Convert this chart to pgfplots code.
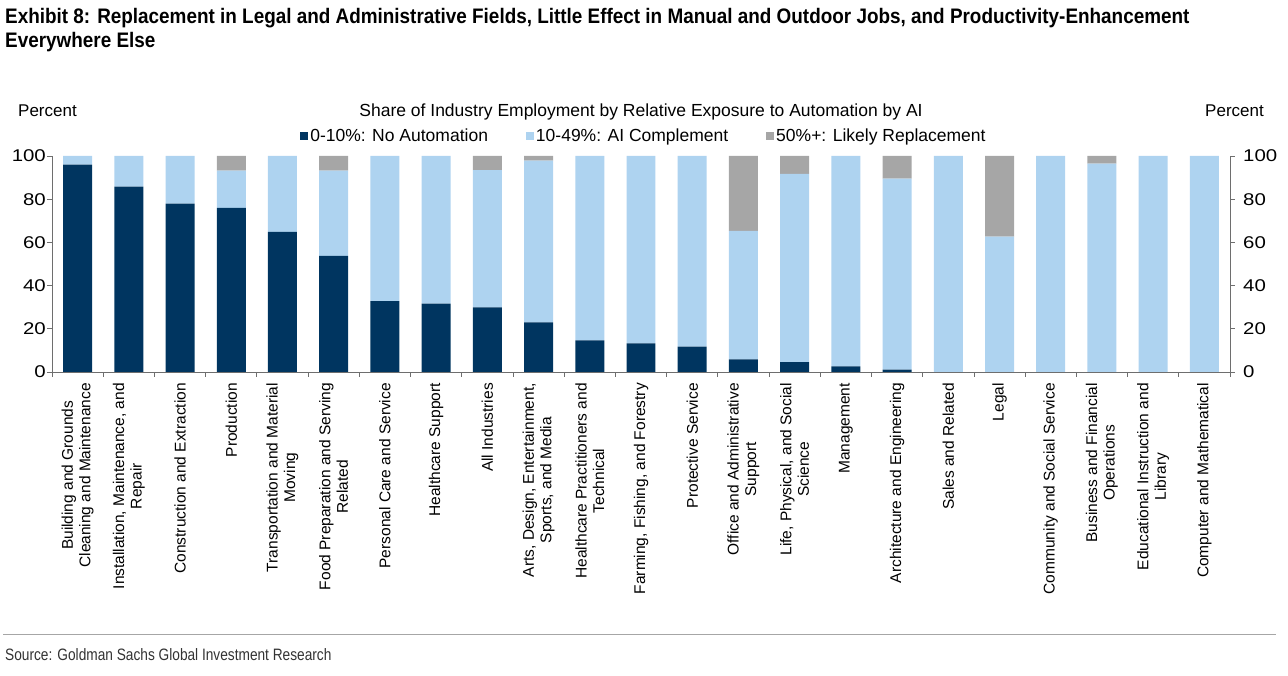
\documentclass[border=0pt]{standalone}
\usepackage{fontspec}
\setmainfont{Liberation Sans}
\newfontfamily\narrowbold[FakeStretch=0.90]{Liberation Sans Bold}
\newfontfamily\narrow[FakeStretch=0.83]{Liberation Sans}
\newfontfamily\widedigits[FakeStretch=1.2]{Liberation Sans}
\usepackage{pgfplots}
\pgfplotsset{compat=1.18}

\definecolor{navy}{HTML}{003560}
\definecolor{skyb}{HTML}{AED3F0}
\definecolor{greyb}{HTML}{A6A6A6}
\definecolor{axgray}{HTML}{6E6E6E}

\begin{document}
\begin{tikzpicture}
\path[use as bounding box] (0,0) rectangle (1288bp,676bp);

% title and source
\node[anchor=base west, inner sep=0pt, font=\narrowbold\fontsize{21bp}{24bp}\selectfont] at (5bp,652bp)
  {Exhibit 8: Replacement in Legal and Administrative Fields, Little Effect in Manual and Outdoor Jobs, and Productivity-Enhancement};
\node[anchor=base west, inner sep=0pt, font=\narrowbold\fontsize{21bp}{24bp}\selectfont] at (5bp,628bp)
  {Everywhere Else};
\draw[gray!70, line width=1bp] (3bp,41bp) -- (1276bp,41bp);
\node[anchor=base west, inner sep=0pt, font=\narrow\fontsize{16.5bp}{19bp}\selectfont, text=black!80] at (5bp,16bp)
  {Source: Goldman Sachs Global Investment Research};

% headers above the plot
\node[anchor=base west, inner sep=0pt, font=\fontsize{17bp}{20bp}\selectfont] at (18bp,559bp) {Percent};
\node[anchor=base east, inner sep=0pt, font=\fontsize{17bp}{20bp}\selectfont] at (1264bp,559bp) {Percent};
\node[anchor=base, inner sep=0pt, font=\fontsize{17.5bp}{20bp}\selectfont] at (641bp,559bp)
  {Share of Industry Employment by Relative Exposure to Automation by AI};

\begin{axis}[
  at={(52bp,304bp)}, anchor=south west,
  width=1178bp, height=216bp, scale only axis,
  ybar stacked, bar width=0.566,
  xmin=-0.5, xmax=22.5, ymin=0, ymax=100,
  axis x line*=bottom, axis y line*=left,
  axis line style={axgray, line width=0.8bp},
  tick style={axgray, line width=0.8bp},
  tick align=outside,
  major tick length=5bp, minor tick length=5bp,
  xtick={0,...,22},
  minor xtick={-0.5,0.5,...,22.5},
  major x tick style={draw=none},
  ytick={0,20,...,100},
  yticklabel style={font=\widedigits\fontsize{17bp}{20bp}\selectfont, inner sep=1bp},
  /pgf/number format/assume math mode=true,
  xticklabel style={rotate=90, anchor=east, align=center, inner sep=0pt,
    xshift=-6bp, font=\fontsize{15.5bp}{17.5bp}\selectfont},
  xticklabels={
    {Building and Grounds\\Cleaning and Maintenance},
    {Installation, Maintenance, and\\Repair},
    {Construction and Extraction},
    {Production},
    {Transportation and Material\\Moving},
    {Food Preparation and Serving\\Related},
    {Personal Care and Service},
    {Healthcare Support},
    {All Industries},
    {Arts, Design, Entertainment,\\Sports, and Media},
    {Healthcare Practitioners and\\Technical},
    {Farming, Fishing, and Forestry},
    {Protective Service},
    {Office and Administrative\\Support},
    {Life, Physical, and Social\\Science},
    {Management},
    {Architecture and Engineering},
    {Sales and Related},
    {Legal},
    {Community and Social Service},
    {Business and Financial\\Operations},
    {Educational Instruction and\\Library},
    {Computer and Mathematical}},
  legend columns=3,
  legend style={at={(0.5025,1.092)}, anchor=center, draw=none, fill=none,
    font=\fontsize{17.5bp}{20bp}\selectfont,
    /tikz/every even column/.append style={column sep=36bp}},
  legend image code/.code={\fill[#1] (0bp,-4bp) rectangle (8bp,4bp);},
  legend cell align=left,
]
% 0-10%: No Automation
\addplot[fill=navy, draw=none] coordinates {
  (0,96.0) (1,85.8) (2,78.0) (3,76.0) (4,64.9) (5,53.8) (6,32.8) (7,31.7)
  (8,29.9) (9,23.0) (10,14.6) (11,13.3) (12,11.7) (13,5.9) (14,4.6) (15,2.6)
  (16,1.1) (17,0) (18,0) (19,0) (20,0) (21,0) (22,0)};
% 10-49%: AI Complement
\addplot[fill=skyb, draw=none] coordinates {
  (0,4.0) (1,14.2) (2,22.0) (3,17.2) (4,35.1) (5,39.4) (6,67.2) (7,68.3)
  (8,63.6) (9,74.8) (10,85.4) (11,86.7) (12,88.3) (13,59.4) (14,87.1) (15,97.4)
  (16,88.4) (17,100) (18,62.7) (19,100) (20,96.5) (21,100) (22,100)};
% 50%+: Likely Replacement
\addplot[fill=greyb, draw=none] coordinates {
  (0,0) (1,0) (2,0) (3,6.8) (4,0) (5,6.8) (6,0) (7,0)
  (8,6.5) (9,2.2) (10,0) (11,0) (12,0) (13,34.7) (14,8.3) (15,0)
  (16,10.5) (17,0) (18,37.3) (19,0) (20,3.5) (21,0) (22,0)};
\legend{0-10\%: No Automation, 10-49\%: AI Complement, 50\%+: Likely Replacement}
\end{axis}

\begin{axis}[
  at={(52bp,304bp)}, anchor=south west,
  width=1178bp, height=216bp, scale only axis,
  xmin=-0.5, xmax=22.5, ymin=0, ymax=100,
  axis x line=none, axis y line*=right,
  axis line style={axgray, line width=0.8bp},
  tick style={axgray, line width=0.8bp},
  tick align=outside, major tick length=5bp,
  ytick={0,20,...,100},
  yticklabel style={font=\widedigits\fontsize{17bp}{20bp}\selectfont, inner sep=1bp, xshift=7bp},
  /pgf/number format/assume math mode=true,
]
\addplot[draw=none] coordinates {(0,0)};
\end{axis}
\end{tikzpicture}
\end{document}
